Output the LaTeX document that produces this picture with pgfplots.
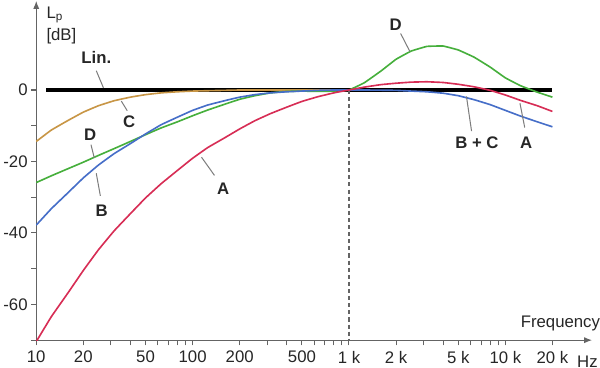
\documentclass[border=0pt]{standalone}
\usepackage{pgfplots}
\pgfplotsset{compat=1.18}
\usepackage{fontspec}
\setmainfont{Liberation Sans}
\usetikzlibrary{arrows.meta}
\definecolor{cA}{RGB}{215,45,85}
\definecolor{cB}{RGB}{70,110,200}
\definecolor{cC}{RGB}{200,150,70}
\definecolor{cD}{RGB}{70,175,60}
\definecolor{axgray}{RGB}{100,100,100}
\definecolor{leadgray}{RGB}{125,125,125}
\begin{document}
\begin{tikzpicture}
\begin{axis}[
  scale only axis, width=547.7pt, height=334.4pt,
  xmode=log, xmin=10, xmax=36000, ymin=-70, ymax=25,
  axis lines=left,
  x axis line style={draw=axgray, line width=1.3pt, -{Latex[length=8pt,width=6pt]}},
  y axis line style={draw=axgray, line width=1.3pt, -{Latex[length=8pt,width=6pt]}},
  xtick={10,20,50,100,200,500,1000,2000,5000,10000,20000},
  xticklabels={10,20,50,100,200,500,1 k,2 k,5 k,10 k,20 k},
  minor xtick={30,40,60,70,80,90,300,400,600,700,800,900,3000,4000,6000,7000,8000,9000},
  ytick={-70,-60,...,0},
  yticklabels={,-60,,-40,,-20,,0},
  tick align=outside, major tick length=5pt, minor tick length=5pt,
  tick style={draw=axgray, line width=1pt},
  every tick label/.style={font=\fontsize{16.5}{18}\selectfont, text=black!85},
  xticklabel style={yshift=-2pt},
  /pgf/number format/assume math mode=true,
  clip mode=individual,
  every axis plot/.append style={line width=1.6pt, smooth, tension=0.15},
]
% Lin. line
\addplot[black, line width=3.6pt, sharp plot] coordinates {(11.6,0) (20000,0)};
% 1 kHz dashed marker
\addplot[axgray, line width=1.1pt, sharp plot, dash pattern=on 4pt off 3pt] coordinates {(1000,0) (1000,-70)};
% C curve
\addplot[cC] coordinates {
(10,-14.4)(12.5,-11.2)(16,-8.5)(20,-6.2)(25,-4.4)(31.5,-3.0)(40,-2.0)(50,-1.3)(63,-0.8)(80,-0.5)(100,-0.3)(125,-0.2)(160,-0.1)(200,0)(250,0)(400,0)(630,0)(1000,0)};
% D curve
\addplot[cD] coordinates {
(10,-25.9)(12.5,-24.0)(16,-22.0)(20,-20.2)(25,-18.3)(31.5,-16.4)(40,-14.4)(50,-12.5)(63,-10.6)(80,-8.9)(100,-7.2)(125,-5.6)(160,-4.0)(200,-2.6)(250,-1.6)(315,-0.8)(400,-0.4)(500,-0.3)(630,-0.4)(800,-0.3)(1000,0)(1250,2.0)(1600,5.3)(2000,8.6)(2500,10.9)(3150,12.2)(4000,12.3)(5000,11.2)(6300,9.2)(8000,6.4)(10000,3.4)(12500,1.2)(16000,-0.6)(20000,-2.0)};
% B (+C) curve
\addplot[cB] coordinates {
(10,-37.8)(12.5,-33.2)(16,-28.7)(20,-24.6)(25,-21.0)(31.5,-17.8)(40,-15.0)(50,-12.3)(63,-9.7)(80,-7.6)(100,-5.7)(125,-4.2)(160,-3.0)(200,-2.0)(250,-1.3)(315,-0.8)(400,-0.5)(500,-0.3)(630,-0.1)(800,0)(1000,0)(1250,0)(1600,-0.05)(2000,-0.1)(2500,-0.3)(3150,-0.5)(4000,-0.9)(5000,-1.6)(6300,-2.7)(8000,-4.1)(10000,-5.7)(12500,-7.3)(16000,-8.9)(20000,-10.3)};
% A curve
\addplot[cA] coordinates {
(10,-70.4)(12.5,-63.4)(16,-56.7)(20,-50.5)(25,-44.7)(31.5,-39.4)(40,-34.6)(50,-30.2)(63,-26.2)(80,-22.5)(100,-19.1)(125,-16.1)(160,-13.4)(200,-10.9)(250,-8.6)(315,-6.6)(400,-4.8)(500,-3.2)(630,-1.9)(800,-0.8)(1000,0)(1250,0.8)(1600,1.5)(2000,1.9)(2500,2.2)(3150,2.3)(4000,2.1)(5000,1.6)(6300,0.9)(8000,-0.1)(10000,-1.4)(12500,-2.9)(16000,-4.4)(20000,-6.0)};
% leader lines
\addplot[leadgray, line width=1pt, sharp plot] coordinates {(24.2,5.4)(26.9,0.6)};
\addplot[leadgray, line width=1pt, sharp plot] coordinates {(38.2,-5.8)(35.0,-3.1)};
\addplot[leadgray, line width=1pt, sharp plot] coordinates {(22.4,-15.3)(23.5,-19.0)};
\addplot[leadgray, line width=1pt, sharp plot] coordinates {(25.7,-29.6)(24.2,-23.3)};
\addplot[leadgray, line width=1pt, sharp plot] coordinates {(138,-23.9)(114,-18.8)};
\addplot[leadgray, line width=1pt, sharp plot] coordinates {(2140,15.8)(2450,10.8)};
\addplot[leadgray, line width=1pt, sharp plot] coordinates {(6080,-11.5)(5640,-1.8)};
\addplot[leadgray, line width=1pt, sharp plot] coordinates {(13300,-10.5)(12400,-3.7)};
% curve labels
\begin{scope}[every node/.style={font=\bfseries\fontsize{16.5}{18}\selectfont, text=black!85, inner sep=0pt}]
\node at (axis cs:24.2,9.1) {Lin.};
\node at (axis cs:39.3,-8.9) {C};
\node at (axis cs:22.1,-12.6) {D};
\node at (axis cs:26.2,-33.8) {B};
\node at (axis cs:156.7,-27.7) {A};
\node at (axis cs:1990,18.3) {D};
\node at (axis cs:6580,-14.8) {B + C};
\node at (axis cs:13600,-14.8) {A};
\end{scope}
% axis labels
\begin{scope}[every node/.style={font=\fontsize{16.5}{18}\selectfont, text=black!85, inner sep=0pt}]
\node[anchor=west] at (axis cs:11.6,21.0) {L\textsubscript{p}};
\node[anchor=west] at (axis cs:11.6,15.1) {[dB]};
\node at (axis cs:22500,-65.3) {Frequency};
\node at (axis cs:33500,-75.9) {Hz};
\end{scope}
\end{axis}
\end{tikzpicture}
\end{document}
